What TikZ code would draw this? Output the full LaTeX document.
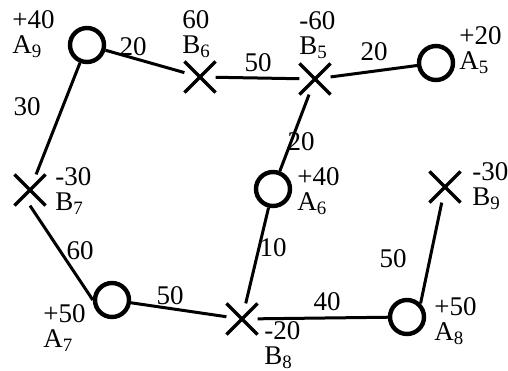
\documentclass[tikz,border=0pt]{standalone}
\usepackage{fontspec}
\setmainfont{Liberation Serif}
\usepackage{tikz}
\usetikzlibrary{shapes.misc}

\begin{document}
\begin{tikzpicture}[x=0.5pt,y=-0.5pt,
  pit/.style={circle,draw,line width=2.2pt,minimum size=17pt,inner sep=0pt},
  cut/.style={cross out,draw,line width=1.6pt,minimum size=14pt,inner sep=0pt},
  lab/.style={anchor=west,inner sep=0pt,align=left,font=\fontsize{13.5}{12.5}\selectfont},
  num/.style={inner sep=0pt,font=\fontsize{13.5}{15}\selectfont}]
  \useasboundingbox (0,0) rectangle (508,370);
  % pits (A) and cuts (B)
  \node[pit] (A9) at (87,45) {};
  \node[cut] (B6) at (200,77) {};
  \node[cut] (B5) at (315,79) {};
  \node[pit] (A5) at (436,63) {};
  \node[pit] (A6) at (273,189) {};
  \node[cut] (B7) at (30,190) {};
  \node[pit] (A7) at (112,300) {};
  \node[cut] (B8) at (242,319) {};
  \node[pit] (A8) at (407,317) {};
  \node[cut] (B9) at (445,187) {};
  % roads
  \draw[line width=1.5pt] (A9)--(B6) (B6)--(B5) (B5)--(A5) (B5)--(A6)
    (A9)--(B7) (B7.south)--(A7.west) (A7)--(B8) (A6)--(B8) (B8)--(A8) (A8.north east)--(B9);
  % volumes and names
  \node[lab] (tA9) at (12,34) {+40\\A\textsubscript{9}};
  \node[lab] (tB6) at (182,34) {60\\B\textsubscript{6}};
  \node[lab] (tB5) at (299,35) {-60\\B\textsubscript{5}};
  \node[lab] (tA5) at (459,50) {+20\\A\textsubscript{5}};
  \node[lab] (tA6) at (297,191) {+40\\A\textsubscript{6}};
  \node[lab] (tB7) at (55,191) {-30\\B\textsubscript{7}};
  \node[lab] (tA7) at (43,328) {+50\\A\textsubscript{7}};
  \node[lab] (tB8) at (264,345) {-20\\B\textsubscript{8}};
  \node[lab] (tA8) at (434,321) {+50\\A\textsubscript{8}};
  \node[lab] (tB9) at (472,186) {-30\\B\textsubscript{9}};
  % distances
  \node[num] (d1) at (133,47) {20};
  \node[num] (d2) at (258,63) {50};
  \node[num] (d3) at (374,52) {20};
  \node[num] (d4) at (301,142) {20};
  \node[num] (d5) at (27,107) {30};
  \node[num] (d6) at (80,251) {60};
  \node[num] (d7) at (170,296) {50};
  \node[num] (d8) at (273,248) {10};
  \node[num] (d9) at (327,302) {40};
  \node[num] (d10) at (393,259) {50};
\end{tikzpicture}
\end{document}
